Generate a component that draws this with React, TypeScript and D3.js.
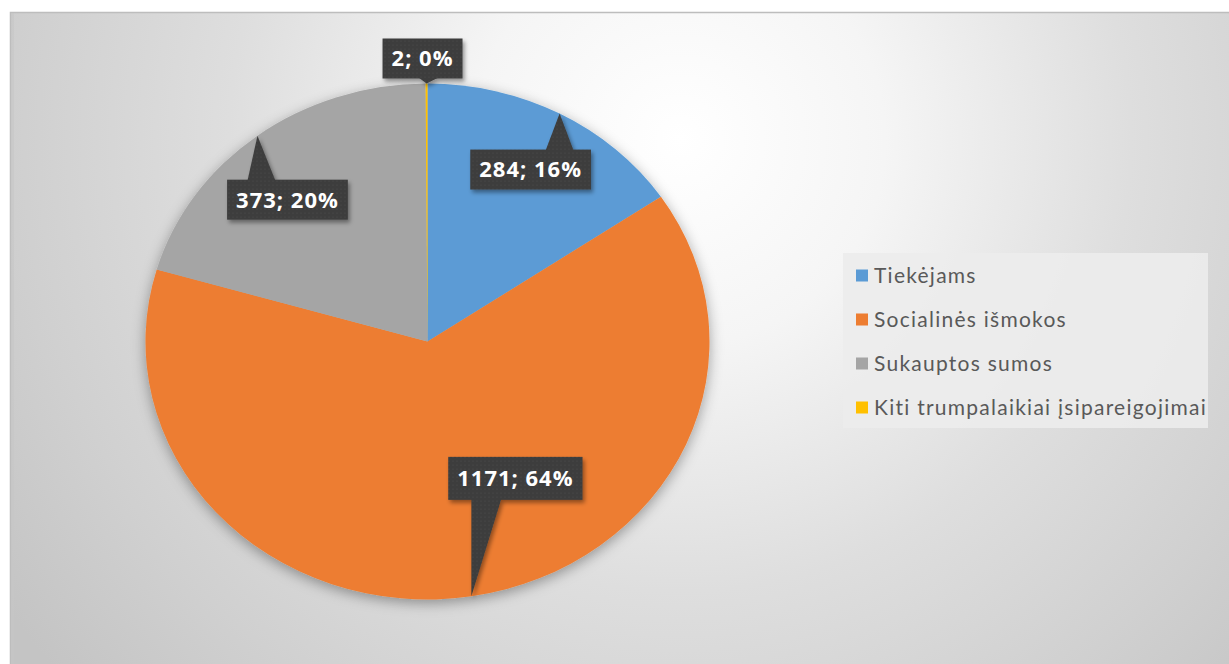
import React, { useEffect, useRef } from "react";
import * as d3 from "d3";

const categories = ["Tiekėjams", "Socialinės išmokos", "Sukauptos sumos", "Kiti trumpalaikiai įsipareigojimai"];
const values = [284, 1171, 373, 2];
const colors = ["#5B9BD5", "#ED7D31", "#A5A5A5", "#FFC000"];

// callout box offsets from the pointer tip (layout only)
const labelOffsets: [number, number][] = [[-29, 56], [44, -118], [30, 64], [-4, -25]];
const pointerBase: [number, number][] = [[-14, 14], [0, 30], [-10, 18], [-8, 12]];

const W = 1229, H = 664;
const CX = 427.5, CY = 341.5, RX = 282, RY = 258;

export default function App() {
  const ref = useRef<SVGSVGElement>(null);
  useEffect(() => {
    const svg = d3.select(ref.current);
    svg.selectAll("*").remove();
    const defs = svg.append("defs");
    const grad = defs.append("radialGradient").attr("id", "bg").attr("gradientUnits", "userSpaceOnUse")
      .attr("cx", 680).attr("cy", 140).attr("r", 820);
    [[0, "#ffffff"], [0.25, "#f5f5f5"], [0.55, "#dedede"], [0.8, "#d0d0d0"], [1, "#c4c4c4"]].forEach(([o, c]) =>
      grad.append("stop").attr("offset", o as number).attr("stop-color", c as string));
    const sh = defs.append("filter").attr("id", "pieShadow").attr("x", "-20%").attr("y", "-20%").attr("width", "140%").attr("height", "140%");
    sh.append("feDropShadow").attr("dx", 0).attr("dy", 4).attr("stdDeviation", 7).attr("flood-color", "#000").attr("flood-opacity", 0.35);
    const sh2 = defs.append("filter").attr("id", "boxShadow").attr("x", "-20%").attr("y", "-20%").attr("width", "150%").attr("height", "150%");
    sh2.append("feDropShadow").attr("dx", 2).attr("dy", 3).attr("stdDeviation", 2).attr("flood-color", "#000").attr("flood-opacity", 0.4);
    const pat = defs.append("pattern").attr("id", "dots").attr("patternUnits", "userSpaceOnUse").attr("width", 4).attr("height", 4);
    pat.append("rect").attr("width", 4).attr("height", 4).attr("fill", "#3c3c3c");
    pat.append("circle").attr("cx", 1).attr("cy", 1).attr("r", 0.6).attr("fill", "#555");

    svg.append("rect").attr("x", 0).attr("y", 0).attr("width", W).attr("height", H).attr("fill", "#fff");
    svg.append("rect").attr("x", 10.5).attr("y", 12.5).attr("width", W + 10).attr("height", H + 10)
      .attr("fill", "url(#bg)").attr("stroke", "#bdbdbd").attr("stroke-width", 1.5);
    svg.append("rect").attr("x", 11).attr("y", 13).attr("width", 3).attr("height", H).attr("fill", "#c6c6c6").attr("opacity", 0.6);

    const total = d3.sum(values);
    const pie = d3.pie<number>().sort(null).value((d) => d);
    const arcs = pie(values);
    const arc = d3.arc<d3.PieArcDatum<number>>().innerRadius(0).outerRadius(RX);

    const g = svg.append("g").attr("filter", "url(#pieShadow)")
      .attr("transform", `translate(${CX},${CY}) scale(1,${RY / RX})`);
    g.selectAll("path").data(arcs).join("path")
      .attr("d", arc as any).attr("fill", (_, i) => colors[i]);

    // labels
    const lg = svg.append("g");
    arcs.forEach((a, i) => {
      const mid = (a.startAngle + a.endAngle) / 2;
      const tip: [number, number] = [CX + RX * Math.sin(mid), CY - RY * Math.cos(mid)];
      const pct = Math.round((values[i] / total) * 100);
      const txt = `${values[i]}; ${pct}%`;
      const cx = tip[0] + labelOffsets[i][0];
      const cy = tip[1] + labelOffsets[i][1];
      const grp = lg.append("g").attr("filter", "url(#boxShadow)");
      const t = lg.append("text").text(txt)
        .attr("x", cx).attr("y", cy).attr("text-anchor", "middle").attr("dy", "0.36em")
        .attr("font-family", "'Open Sans', sans-serif").attr("font-weight", 700).attr("font-size", 22)
        .attr("letter-spacing", 1)
        .attr("fill", "#fff");
      const tw = (t.node() as SVGTextElement).getComputedTextLength();
      const bw = tw + 18, bh = i === 1 ? 43 : 40;
      const bx = cx - bw / 2, by = cy - bh / 2;
      const below = tip[1] < by;
      const baseY = below ? by + 1 : by + bh - 1;
      const pts: [number, number][] = [
        [tip[0] + pointerBase[i][0], baseY], tip, [tip[0] + pointerBase[i][1], baseY],
      ];
      grp.append("rect").attr("x", bx).attr("y", by).attr("width", bw).attr("height", bh).attr("fill", "url(#dots)");
      grp.append("path").attr("d", d3.line()(pts)! + "Z").attr("fill", "url(#dots)");
      t.raise();
    });

    // legend
    const leg = svg.append("g");
    leg.append("rect").attr("x", 843).attr("y", 253).attr("width", 365).attr("height", 175).attr("fill", "#ececec").attr("opacity", 0.9);
    const ly = d3.scalePoint<string>().domain(categories).range([275, 407]);
    categories.forEach((c, i) => {
      const y = ly(c)!;
      leg.append("rect").attr("x", 856).attr("y", y - 5.5).attr("width", 12).attr("height", 12).attr("fill", colors[i]);
      leg.append("text").text(c).attr("x", 874).attr("y", y).attr("dy", "0.36em")
        .attr("font-family", "Lato, sans-serif").attr("font-size", 21).attr("fill", "#595959")
        .attr("letter-spacing", 1.25);
    });
  }, []);
  return (
    <svg ref={ref} width={W} height={H} style={{ position: "absolute", left: 0, top: 0, display: "block" }} />
  );
}
